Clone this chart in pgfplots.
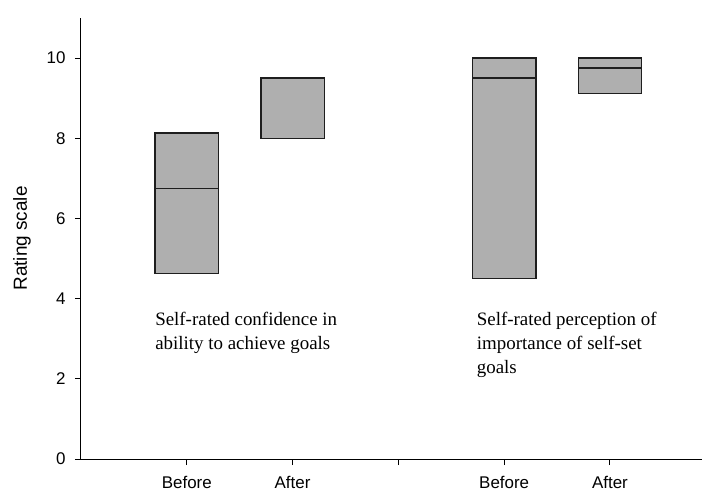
\documentclass[border=0pt]{standalone}
\usepackage{fontspec}
\setmainfont{Liberation Sans}
\newfontfamily\serif{Liberation Serif}
\usepackage{pgfplots}
\pgfplotsset{compat=1.18}
\usepgfplotslibrary{statistics}
\usetikzlibrary{calc}
\definecolor{boxgray}{RGB}{175,175,175}
\definecolor{edge}{RGB}{30,30,30}

\begin{document}
\begin{tikzpicture}
\begin{axis}[
    scale only axis,
    width=621bp, height=441bp,
    xmin=0, xmax=5.87,
    ymin=0, ymax=11,
    axis lines*=left,
    axis line style={line width=1bp},
    tick align=outside,
    tick style={black, line width=1bp},
    major tick length=6bp,
    xtick={1,2,3,4,5},
    xticklabels={Before,After,{},Before,After},
    ytick={0,2,4,6,8,10},
    tick label style={font=\fontsize{17}{20}\selectfont},
    yticklabel style={xshift=-6bp},
    xticklabel style={yshift=-8bp},
    /pgf/number format/assume math mode=true,
    ylabel={Rating scale},
    ylabel style={font=\fontsize{19}{22}\selectfont, yshift=9bp},
    boxplot/draw direction=y,
    boxplot/box extend=0.6,
    boxplot/every box/.style={draw=edge, line width=1.4bp, fill=boxgray},
    boxplot/every median/.style={draw=edge, line width=1.4bp},
    boxplot/every whisker/.style={draw=none},
]
% Self-rated confidence: Before / After
\addplot[boxplot prepared={draw position=1,
    lower whisker=4.63, lower quartile=4.63, median=6.75,
    upper quartile=8.13, upper whisker=8.13}] coordinates {};
\addplot[boxplot prepared={draw position=2,
    lower whisker=8.0, lower quartile=8.0, median=8.0,
    upper quartile=9.5, upper whisker=9.5}] coordinates {};
% Self-rated importance: Before / After
\addplot[boxplot prepared={draw position=4,
    lower whisker=4.5, lower quartile=4.5, median=9.5,
    upper quartile=10, upper whisker=10}] coordinates {};
\addplot[boxplot prepared={draw position=5,
    lower whisker=9.12, lower quartile=9.12, median=9.75,
    upper quartile=10, upper whisker=10}] coordinates {};

\node[anchor=north west, align=left, inner sep=0pt,
      font=\serif\fontsize{19}{24}\selectfont]
  at (axis cs:0.70,3.67) {Self-rated confidence in\\ability to achieve goals};
\node[anchor=north west, align=left, inner sep=0pt,
      font=\serif\fontsize{19}{24}\selectfont]
  at (axis cs:3.74,3.67) {Self-rated perception of\\importance of self-set\\goals};
\end{axis}
\pgfresetboundingbox
\path[use as bounding box] ($(current axis.south west)+(-81bp,-32bp)$)
  rectangle ($(current axis.north east)+(0bp,18bp)$);
\end{tikzpicture}
\end{document}
